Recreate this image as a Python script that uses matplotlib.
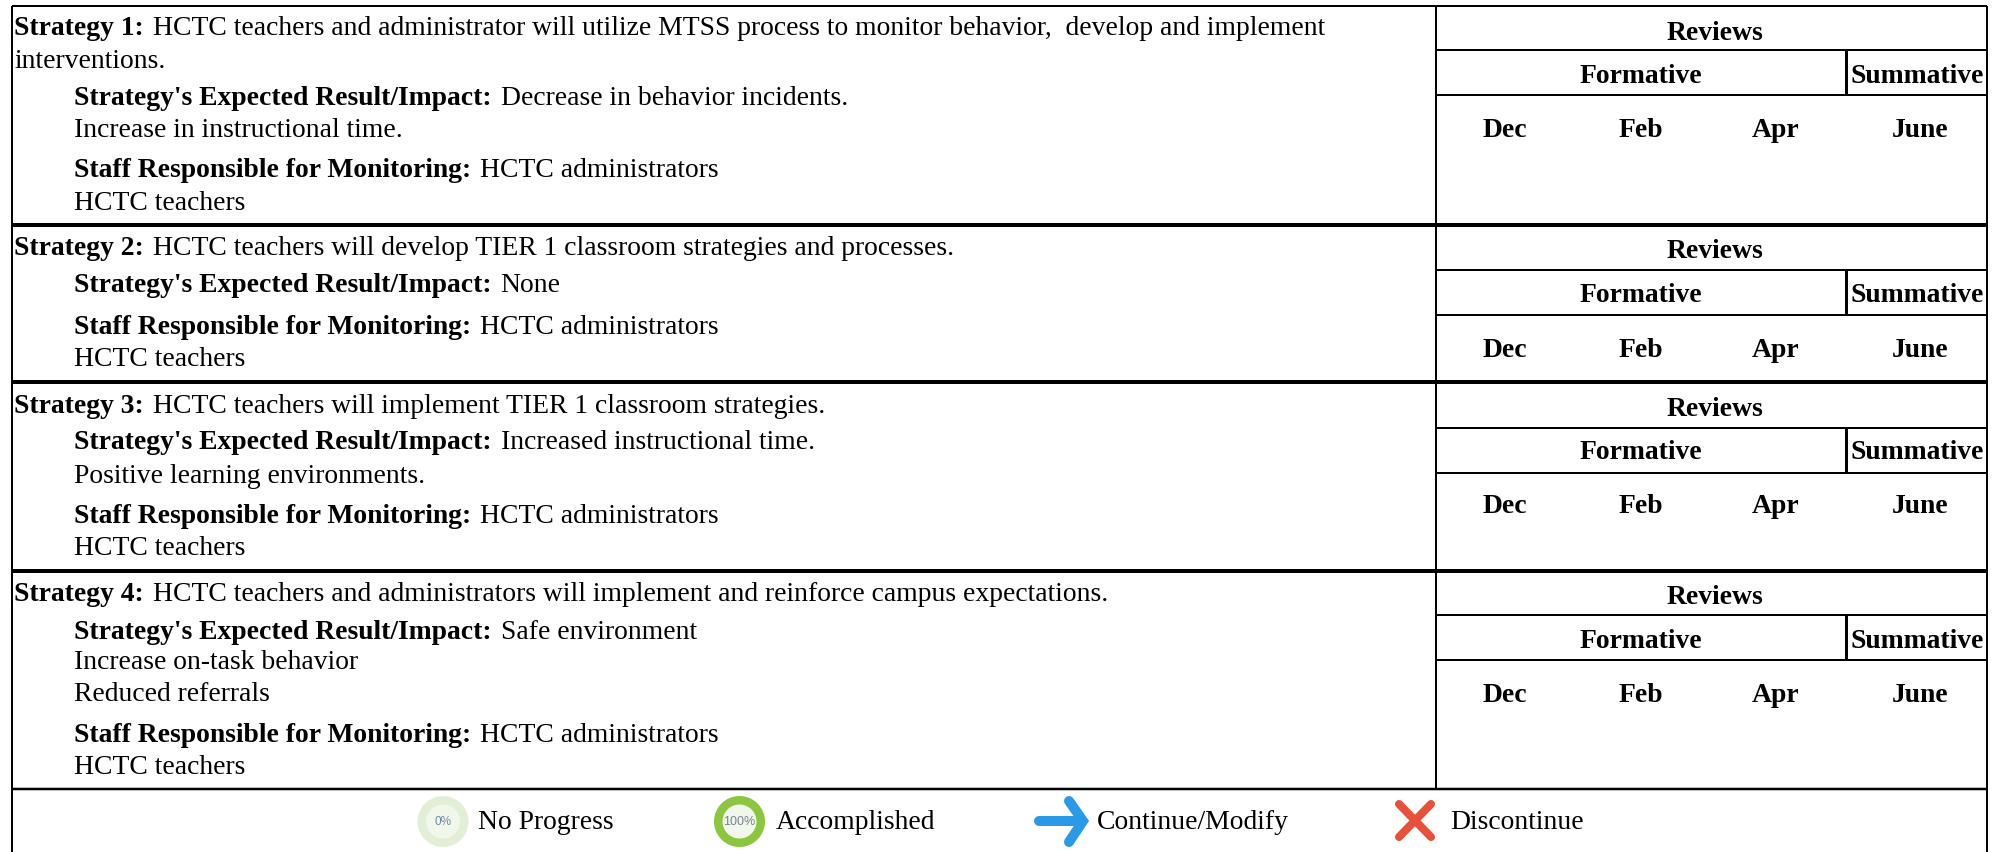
import matplotlib
matplotlib.use("Agg")
import matplotlib.pyplot as plt
from matplotlib.patches import Ellipse

plt.rcParams['font.family'] = ['Liberation Serif', 'DejaVu Sans']

W, H = 1999, 852
FS = 19.9

strategy_text = [
    ["HCTC teachers and administrator will utilize MTSS process to monitor behavior,  develop and implement", "interventions."],
    ["HCTC teachers will develop TIER 1 classroom strategies and processes."],
    ["HCTC teachers will implement TIER 1 classroom strategies."],
    ["HCTC teachers and administrators will implement and reinforce campus expectations."],
]
expected_result = [
    ["Decrease in behavior incidents.", "Increase in instructional time."],
    ["None"],
    ["Increased instructional time.", "Positive learning environments."],
    ["Safe environment", "Increase on-task behavior", "Reduced referrals"],
]
staff = ["HCTC administrators", "HCTC teachers"]
months = ["Dec", "Feb", "Apr", "June"]
legend_labels = ["No Progress", "Accomplished", "Continue/Modify", "Discontinue"]

# layout, in pixels of the reference
left, split, summ, right = 12, 1436, 1846, 1987
row_lines = [6, 225, 382, 571, 789]
month_x = [1505, 1641, 1776, 1920]
# baselines per row: strategy lines, result lines, staff lines
strategy_y = [[35, 68], [255], [413], [601]]
result_y = [[105, 137], [292], [449, 483], [639, 669, 701]]
staff_y = [[177, 210], [334, 366], [523, 555], [742, 774]]
header_y = [[40, 83, 137], [258, 302, 357], [416, 459, 513], [604, 648, 702]]
header_lines = [[50, 95], [270, 315], [428, 473], [615, 660]]

fig = plt.figure(figsize=(W / 100, H / 100), dpi=100)
ax = fig.add_axes([0, 0, 1, 1])
ax.set_xlim(0, W)
ax.set_ylim(H, 0)
ax.axis("off")


def line(x0, y0, x1, y1, lw=2):
    ax.plot([x0, x1], [y0, y1], color="black", lw=lw * 0.72, solid_capstyle="butt")


def text(x, y, s, bold=False, **kw):
    return ax.text(x, y, s, fontsize=kw.pop("fontsize", FS), va="baseline",
                   fontweight="bold" if bold else "normal", color="black", **kw)


def label_pair(x, y, head, rest):
    t = text(x, y, head, bold=True)
    bb = t.get_window_extent(fig.canvas.get_renderer())
    text(bb.x1 + 9, y, rest)


# table frame
line(left, row_lines[0], right, row_lines[0], 2)
line(left, row_lines[0], left, H, 2)
line(right, row_lines[0], right, H, 2)
line(split, row_lines[0], split, row_lines[-1], 2)
for y in row_lines[1:-1]:
    line(left, y, right, y, 4)
line(left, row_lines[-1], right, row_lines[-1], 2.5)

for i in range(4):
    label_pair(left + 2, strategy_y[i][0], f"Strategy {i + 1}:", strategy_text[i][0])
    for s, y in zip(strategy_text[i][1:], strategy_y[i][1:]):
        text(left + 2, y, s)

    label_pair(74, result_y[i][0], "Strategy's Expected Result/Impact:", expected_result[i][0])
    for s, y in zip(expected_result[i][1:], result_y[i][1:]):
        text(74, y, s)

    label_pair(74, staff_y[i][0], "Staff Responsible for Monitoring:", staff[0])
    text(74, staff_y[i][1], staff[1])

    y_rev, y_form, y_mon = header_y[i]
    y1, y2 = header_lines[i]
    line(split, y1, right, y1, 2)
    line(split, y2, right, y2, 2)
    line(summ, y1, summ, y2, 3)
    text(1715, y_rev, "Reviews", bold=True, ha="center")
    text(1641, y_form, "Formative", bold=True, ha="center")
    text((summ + right) / 2 + 0.5, y_form, "Summative", bold=True, ha="center")
    for m, x in zip(months, month_x):
        text(x, y_mon, m, bold=True, ha="center")

# legend icons
ax.add_patch(Ellipse((443, 821.5), 51, 51, fc="#e2efd6", ec="none"))
ax.add_patch(Ellipse((443, 821.5), 34, 34, fc="#f2f7ec", ec="none"))
ax.text(443, 822, "0%", fontsize=8.5, color="#6b8aa8", ha="center", va="center", family="Liberation Sans")

ax.add_patch(Ellipse((739.5, 821.5), 51, 51, fc="#8cc63f", ec="none"))
ax.add_patch(Ellipse((739.5, 821.5), 34, 34, fc="#f2f7ec", ec="none"))
ax.text(739.5, 822, "100%", fontsize=9, color="#6f8590", ha="center", va="center", family="Liberation Sans")

ax.plot([1039, 1080], [821, 821], color="#2b9ae6", lw=7.2, solid_capstyle="round")
ax.plot([1069, 1083, 1069], [801, 821, 842], color="#2b9ae6", lw=7.2,
        solid_capstyle="round", solid_joinstyle="miter")

ax.plot([1399, 1431], [804, 837], color="#e8503a", lw=5.8, solid_capstyle="round")
ax.plot([1431, 1399], [804, 837], color="#e8503a", lw=5.8, solid_capstyle="round")

for s, x in zip(legend_labels, [478, 776, 1097, 1450]):
    text(x, 829, s)

fig.savefig("out.png", dpi=100, facecolor="white")
